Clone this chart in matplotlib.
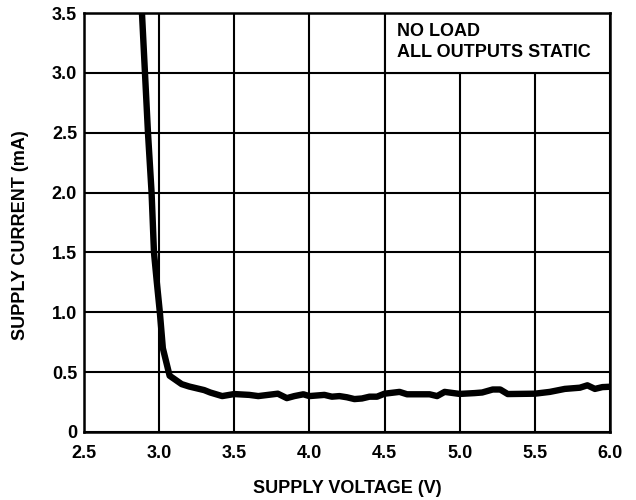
import matplotlib.pyplot as plt
from matplotlib.patches import Rectangle

plt.rcParams['font.family'] = ['Liberation Sans', 'DejaVu Sans']
plt.rcParams['font.weight'] = 'bold'

voltage = [2.886, 2.906, 2.926, 2.95, 2.966, 2.985, 3.005, 3.025, 3.07, 3.15,
           3.2, 3.3, 3.34, 3.42, 3.5, 3.6, 3.66, 3.79, 3.85, 3.9,
           3.96, 4.0, 4.05, 4.1, 4.15, 4.2, 4.25, 4.3, 4.35, 4.4,
           4.45, 4.5, 4.6, 4.65, 4.8, 4.85, 4.9, 5.0, 5.1, 5.15,
           5.22, 5.27, 5.32, 5.5, 5.6, 5.7, 5.8, 5.85, 5.9, 5.95, 6.0]
current = [3.5, 3.0, 2.5, 2.0, 1.5, 1.25, 1.0, 0.7, 0.47, 0.40,
           0.38, 0.35, 0.33, 0.30, 0.317, 0.31, 0.30, 0.32, 0.283, 0.30,
           0.315, 0.30, 0.305, 0.31, 0.295, 0.30, 0.29, 0.275, 0.28, 0.295,
           0.295, 0.32, 0.335, 0.315, 0.315, 0.30, 0.335, 0.318, 0.325, 0.33,
           0.355, 0.355, 0.317, 0.32, 0.335, 0.36, 0.37, 0.39, 0.36, 0.375, 0.378]

x_ticks = [2.5, 3.0, 3.5, 4.0, 4.5, 5.0, 5.5, 6.0]
y_ticks = [0, 0.5, 1.0, 1.5, 2.0, 2.5, 3.0, 3.5]
y_labels = ['0', '0.5', '1.0', '1.5', '2.0', '2.5', '3.0', '3.5']
note = "NO LOAD\nALL OUTPUTS STATIC"

fig = plt.figure(figsize=(6.36, 5.0), dpi=100)
ax = fig.add_axes([0.132, 0.136, 0.827, 0.838])

ax.set_xlim(2.5, 6.0)
ax.set_ylim(0, 3.5)
ax.set_xticks(x_ticks)
ax.set_xticklabels([f"{v:.1f}" for v in x_ticks], fontweight='bold', fontsize=13)
ax.set_yticks(y_ticks)
ax.set_yticklabels(y_labels, fontweight='bold', fontsize=13)
ax.tick_params(length=0)
ax.tick_params(axis='x', pad=9)
ax.tick_params(axis='y', pad=5)

ax.grid(True, color='black', linewidth=1.5, zorder=1)
for s in ax.spines.values():
    s.set_linewidth(1.8)

ax.plot(voltage, current, color='black', linewidth=4.6, solid_joinstyle='round',
        zorder=3)

# white box over the grid for the note
ax.add_patch(Rectangle((4.5, 3.0), 1.5, 0.5, facecolor='white', edgecolor='black',
                       linewidth=1.5, zorder=2))
ax.text(4.58, 3.42, note, fontsize=13, fontweight='bold', va='top', ha='left',
        linespacing=1.35, zorder=4)

ax.set_xlabel("SUPPLY VOLTAGE (V)", fontsize=13, fontweight='bold', labelpad=13)
ax.set_ylabel("SUPPLY CURRENT (mA)", fontsize=13, fontweight='bold')
ax.yaxis.set_label_coords(-0.105, 0.47)

fig.savefig("out.png", dpi=100)
